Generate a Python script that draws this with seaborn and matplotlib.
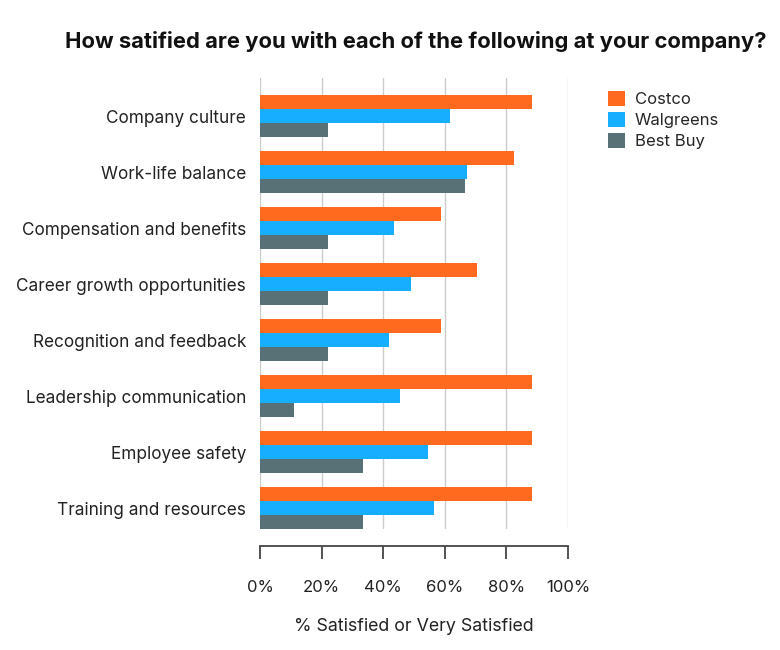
import pandas as pd
import numpy as np
import matplotlib
matplotlib.use('Agg')
import matplotlib.pyplot as plt
import seaborn as sns

# data (% satisfied or very satisfied)
categories = ['Company culture', 'Work-life balance', 'Compensation and benefits',
              'Career growth opportunities', 'Recognition and feedback',
              'Leadership communication', 'Employee safety', 'Training and resources']
companies = ['Costco', 'Walgreens', 'Best Buy']
costco = [88.2, 82.4, 58.8, 70.6, 58.8, 88.2, 88.2, 88.2]
walgreens = [61.8, 67.3, 43.6, 49.1, 41.8, 45.5, 54.5, 56.4]
best_buy = [22.2, 66.7, 22.2, 22.2, 22.2, 11.1, 33.3, 33.3]
x_ticks = [0, 20, 40, 60, 80, 100]
x_tick_labels = ['0%', '20%', '40%', '60%', '80%', '100%']

colors = ['#FF6A1F', '#17AEFF', '#577177']

df = pd.DataFrame({
    'Category': categories * 3,
    'Company': [c for c in companies for _ in categories],
    'Value': costco + walgreens + best_buy,
})

sns.set_style('white')
plt.rcParams['font.family'] = ['Inter', 'DejaVu Sans']

fig = plt.figure(figsize=(7.8, 6.5), dpi=100)
ax = fig.add_axes([260 / 780, 1 - 529 / 650, 308 / 780, 451 / 650])

sns.barplot(data=df, y='Category', x='Value', hue='Company', orient='h',
            palette=colors, saturation=1, width=0.75, gap=0, linewidth=0,
            order=categories, hue_order=companies, ax=ax, zorder=3)

ax.set_xlim(0, 100)
ax.set_ylim(7.375, -0.68)
ax.set_xticks(x_ticks)
ax.set_xticklabels(x_tick_labels)
ax.grid(axis='x', color='#cccccc', linewidth=1, zorder=0)
ax.grid(axis='y', visible=False)

for side in ['top', 'right', 'left']:
    ax.spines[side].set_visible(False)
# axis line sits a little below the plot area (values in points)
ax.spines['bottom'].set_position(('outward', 12))
ax.spines['bottom'].set_color('#444444')
ax.spines['bottom'].set_linewidth(1.3)

ax.tick_params(axis='x', bottom=True, direction='out', length=9.5, width=1.3,
               color='#444444', pad=15.5, labelsize=12, labelcolor='#222222')
ax.tick_params(axis='y', left=False, length=0, pad=10, labelsize=12.4,
               labelcolor='#222222')
for lbl in ax.get_yticklabels():
    lbl.set_y(lbl.get_position()[1])
    lbl.set_va('center_baseline')

ax.set_ylabel('')
ax.set_xlabel('% Satisfied or Very Satisfied', fontsize=12.8, labelpad=16,
              color='#222222')

ax.legend(loc='upper left', bbox_to_anchor=(608 / 780, 1 - 91 / 650),
          bbox_transform=fig.transFigure, frameon=False, fontsize=12,
          handlelength=1.0, handleheight=1.0, handletextpad=0.6,
          labelspacing=0.3, borderaxespad=0, borderpad=0)

fig.text(416 / 780, 1 - 42 / 650,
         'How satified are you with each of the following at your company?',
         ha='center', va='center', fontsize=15.8, fontweight='bold',
         color='#111111')

fig.savefig('out.png', dpi=100)
